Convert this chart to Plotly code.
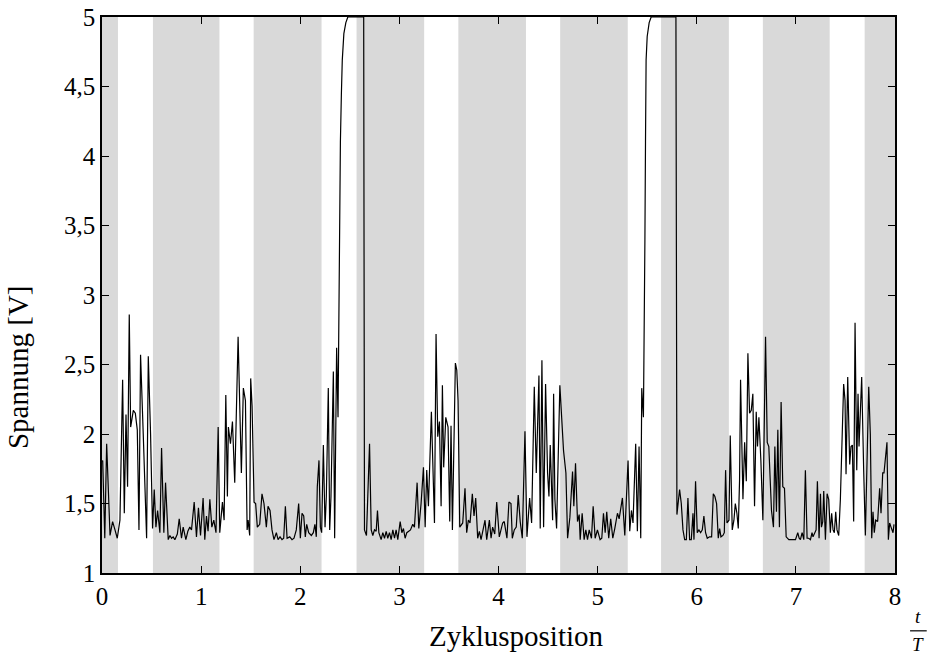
import plotly.graph_objects as go

# Zeit (Zyklusposition t/T) und Spannung [V]
t = [0.000, 0.007, 0.028, 0.047, 0.081, 0.107, 0.131, 0.154, 0.181, 0.208, 0.225, 0.242, 0.258, 0.275,
     0.289, 0.316, 0.336, 0.356, 0.373, 0.389, 0.416, 0.450, 0.467, 0.490, 0.510, 0.527, 0.544, 0.561,
     0.584, 0.601, 0.624, 0.641, 0.668, 0.685, 0.702, 0.718, 0.735, 0.760, 0.779, 0.802, 0.819, 0.846,
     0.866, 0.886, 0.903, 0.930, 0.953, 0.973, 0.994, 1.020, 1.037, 1.054, 1.070, 1.088, 1.108, 1.128,
     1.150, 1.172, 1.188, 1.215, 1.232, 1.249, 1.265, 1.275, 1.296, 1.316, 1.339, 1.373, 1.406, 1.426,
     1.447, 1.464, 1.474, 1.490, 1.500, 1.514, 1.534, 1.550, 1.567, 1.591, 1.614, 1.634, 1.658, 1.675,
     1.695, 1.715, 1.735, 1.759, 1.776, 1.796, 1.816, 1.833, 1.850, 1.867, 1.894, 1.917, 1.937, 1.960,
     1.984, 2.001, 2.018, 2.035, 2.051, 2.065, 2.085, 2.112, 2.132, 2.148, 2.162, 2.172, 2.189, 2.203,
     2.216, 2.233, 2.250, 2.263, 2.283, 2.297, 2.310, 2.334, 2.347, 2.367, 2.381, 2.388, 2.396, 2.405,
     2.415, 2.424, 2.440, 2.460, 2.480, 2.560, 2.640, 2.648, 2.668, 2.699, 2.716, 2.732, 2.749, 2.766,
     2.779, 2.793, 2.816, 2.833, 2.850, 2.867, 2.883, 2.900, 2.917, 2.934, 2.951, 2.967, 2.984, 3.008,
     3.025, 3.041, 3.058, 3.075, 3.095, 3.112, 3.135, 3.152, 3.179, 3.196, 3.219, 3.243, 3.260, 3.276,
     3.293, 3.323, 3.354, 3.370, 3.387, 3.404, 3.421, 3.434, 3.447, 3.468, 3.491, 3.508, 3.521, 3.535,
     3.565, 3.579, 3.592, 3.609, 3.639, 3.662, 3.679, 3.696, 3.713, 3.736, 3.753, 3.770, 3.790, 3.807,
     3.824, 3.844, 3.864, 3.881, 3.908, 3.925, 3.941, 3.962, 3.982, 4.008, 4.025, 4.042, 4.058, 4.085,
     4.105, 4.126, 4.139, 4.159, 4.179, 4.199, 4.219, 4.240, 4.267, 4.287, 4.314, 4.334, 4.361, 4.381,
     4.408, 4.421, 4.438, 4.455, 4.475, 4.495, 4.509, 4.522, 4.546, 4.556, 4.569, 4.586, 4.619, 4.656,
     4.680, 4.697, 4.720, 4.747, 4.760, 4.777, 4.797, 4.814, 4.824, 4.844, 4.864, 4.881, 4.898, 4.915,
     4.938, 4.955, 4.975, 4.998, 5.025, 5.042, 5.059, 5.076, 5.092, 5.112, 5.132, 5.153, 5.173, 5.200,
     5.217, 5.250, 5.274, 5.307, 5.324, 5.341, 5.357, 5.384, 5.401, 5.418, 5.435, 5.445, 5.462, 5.470,
     5.477, 5.483, 5.489, 5.500, 5.520, 5.540, 5.660, 5.790, 5.800, 5.827, 5.844, 5.861, 5.878, 5.895,
     5.911, 5.928, 5.945, 5.962, 5.972, 5.988, 6.005, 6.022, 6.039, 6.056, 6.072, 6.089, 6.106, 6.129,
     6.150, 6.167, 6.183, 6.200, 6.217, 6.231, 6.244, 6.264, 6.278, 6.291, 6.305, 6.325, 6.338, 6.358,
     6.375, 6.389, 6.405, 6.419, 6.432, 6.442, 6.466, 6.483, 6.500, 6.516, 6.533, 6.550, 6.566, 6.583,
     6.600, 6.613, 6.627, 6.647, 6.667, 6.694, 6.711, 6.727, 6.754, 6.774, 6.788, 6.804, 6.818, 6.834,
     6.851, 6.868, 6.885, 6.902, 6.929, 6.962, 6.996, 7.019, 7.033, 7.046, 7.063, 7.080, 7.096, 7.113,
     7.130, 7.147, 7.163, 7.173, 7.187, 7.204, 7.217, 7.234, 7.248, 7.258, 7.271, 7.281, 7.298, 7.315,
     7.331, 7.348, 7.361, 7.375, 7.388, 7.402, 7.415, 7.432, 7.449, 7.466, 7.482, 7.496, 7.506, 7.523,
     7.543, 7.556, 7.570, 7.583, 7.597, 7.614, 7.627, 7.637, 7.651, 7.664, 7.684, 7.701, 7.735, 7.751,
     7.765, 7.778, 7.791, 7.805, 7.825, 7.845, 7.859, 7.876, 7.889, 7.919, 7.933, 7.946, 7.960, 7.980,
     7.990]

spannung = [1.80, 1.81, 1.25, 1.93, 1.27, 1.37, 1.31, 1.25, 1.38, 2.39, 1.43, 2.14, 1.62, 2.86,
            2.05, 2.17, 2.15, 2.03, 1.31, 2.57, 2.00, 1.25, 2.56, 2.00, 1.32, 1.60, 1.33, 1.45,
            1.29, 1.90, 1.29, 1.65, 1.24, 1.27, 1.25, 1.26, 1.24, 1.28, 1.39, 1.25, 1.33, 1.24,
            1.30, 1.33, 1.31, 1.51, 1.26, 1.47, 1.27, 1.54, 1.24, 1.41, 1.30, 1.53, 1.33, 1.38,
            1.29, 2.05, 1.29, 1.51, 1.38, 2.28, 1.55, 2.05, 1.93, 2.09, 1.65, 2.70, 1.72, 2.33,
            2.24, 1.31, 1.38, 1.27, 2.40, 2.20, 1.51, 1.50, 1.33, 1.35, 1.57, 1.50, 1.33, 1.48,
            1.45, 1.31, 1.24, 1.29, 1.24, 1.26, 1.24, 1.25, 1.48, 1.25, 1.26, 1.24, 1.25, 1.31,
            1.50, 1.25, 1.43, 1.41, 1.26, 1.35, 1.29, 1.27, 1.29, 1.35, 1.26, 1.62, 1.81, 1.33,
            1.29, 1.92, 1.33, 1.55, 2.33, 1.31, 1.55, 2.45, 1.25, 2.62, 2.12, 2.90, 3.60, 4.10,
            4.45, 4.69, 4.88, 4.96, 5.00, 5.00, 5.00, 1.31, 1.27, 1.93, 1.31, 1.27, 1.31, 1.30,
            1.45, 1.29, 1.24, 1.29, 1.25, 1.30, 1.25, 1.29, 1.24, 1.31, 1.25, 1.31, 1.24, 1.37,
            1.29, 1.32, 1.25, 1.29, 1.30, 1.31, 1.35, 1.33, 1.65, 1.32, 1.50, 1.76, 1.33, 1.74,
            1.48, 2.16, 1.36, 2.72, 1.98, 2.09, 1.48, 2.35, 1.76, 2.12, 2.05, 1.37, 2.06, 1.31,
            2.51, 2.46, 2.24, 1.33, 1.36, 1.61, 1.29, 1.38, 1.36, 1.57, 1.41, 1.54, 1.25, 1.30,
            1.24, 1.31, 1.38, 1.24, 1.38, 1.25, 1.33, 1.28, 1.51, 1.26, 1.31, 1.36, 1.37, 1.25,
            1.51, 1.50, 1.25, 1.31, 1.33, 1.56, 1.37, 1.25, 2.02, 1.26, 1.54, 1.36, 2.34, 1.72,
            2.42, 1.32, 2.53, 1.33, 2.36, 1.72, 1.55, 1.92, 1.38, 2.29, 1.53, 1.32, 2.35, 1.88,
            1.72, 1.25, 1.40, 1.73, 1.48, 1.79, 1.37, 1.42, 1.24, 1.43, 1.24, 1.31, 1.24, 1.31,
            1.25, 1.48, 1.25, 1.31, 1.24, 1.25, 1.43, 1.29, 1.44, 1.25, 1.39, 1.25, 1.32, 1.43,
            1.39, 1.54, 1.27, 1.81, 1.30, 1.45, 1.36, 1.93, 1.30, 1.91, 1.25, 2.33, 2.12, 2.60,
            3.40, 4.10, 4.69, 4.86, 4.96, 5.00, 5.00, 5.00, 1.42, 1.60, 1.50, 1.31, 1.24, 1.24,
            1.54, 1.24, 1.24, 1.43, 1.24, 1.66, 1.29, 1.31, 1.29, 1.31, 1.41, 1.29, 1.25, 1.26,
            1.26, 1.57, 1.55, 1.50, 1.25, 1.32, 1.26, 1.27, 1.29, 1.74, 1.36, 1.38, 1.99, 1.31,
            1.38, 1.50, 1.43, 1.32, 1.67, 2.39, 1.53, 1.94, 1.66, 2.58, 2.15, 2.17, 2.29, 1.48,
            2.16, 1.91, 2.12, 1.81, 1.38, 2.70, 1.94, 1.91, 1.45, 1.33, 1.91, 1.44, 2.03, 1.33,
            2.23, 1.62, 1.61, 1.26, 1.24, 1.24, 1.24, 1.29, 1.25, 1.24, 1.29, 1.24, 1.74, 1.25,
            1.25, 1.24, 1.29, 1.26, 1.29, 1.31, 1.66, 1.25, 1.57, 1.33, 1.37, 1.59, 1.24, 1.57,
            1.53, 1.29, 1.43, 1.31, 1.29, 1.44, 1.31, 1.27, 1.53, 1.91, 2.36, 2.24, 1.71, 2.41,
            1.78, 1.91, 1.92, 1.37, 2.80, 1.74, 2.29, 1.91, 2.20, 2.41, 1.74, 1.27, 2.34, 2.00,
            1.25, 1.44, 1.29, 1.38, 1.37, 1.61, 1.43, 1.72, 1.72, 1.94, 1.24, 1.36, 1.33, 1.29,
            1.35]

# graue Bereiche (Start, Ende) in t/T
band_start = [0.0, 0.514, 1.530, 2.568, 3.595, 4.622, 5.640, 6.667, 7.694]
band_end = [0.161, 1.185, 2.215, 3.250, 4.277, 5.304, 6.324, 7.341, 8.0]

x_ticks = [0, 1, 2, 3, 4, 5, 6, 7, 8]
y_ticks = [1, 1.5, 2, 2.5, 3, 3.5, 4, 4.5, 5]
y_ticklabels = ["1", "1,5", "2", "2,5", "3", "3,5", "4", "4,5", "5"]

FONT = "Liberation Serif"

fig = go.Figure()
fig.add_trace(go.Scatter(x=t, y=spannung, mode="lines",
                         line=dict(color="black", width=1.2), showlegend=False))

shapes = []
for a, b in zip(band_start, band_end):
    shapes.append(dict(type="rect", xref="x", yref="y", x0=a, x1=b, y0=1, y1=5,
                       fillcolor="#d9d9d9", line=dict(width=0), layer="below"))
# fraction bar for t/T
shapes.append(dict(type="line", xref="paper", yref="paper", x0=1.019, x1=1.040,
                   y0=-0.104, y1=-0.104, line=dict(color="black", width=1.2)))

fig.update_layout(
    width=930, height=659,
    margin=dict(l=102, r=35, t=17, b=86, autoexpand=False),
    paper_bgcolor="white", plot_bgcolor="white",
    font=dict(family=FONT, size=25, color="black"),
    shapes=shapes,
    xaxis=dict(range=[0, 8], tickvals=x_ticks, ticks="inside", ticklen=7, tickwidth=1.3,
               tickcolor="black", showline=True, linecolor="black", linewidth=1.5,
               mirror="ticks", showgrid=False, zeroline=False, automargin=False,
               tickfont=dict(family=FONT, size=25)),
    yaxis=dict(range=[1, 5], tickvals=y_ticks, ticktext=y_ticklabels, ticks="inside",
               ticklen=7, tickwidth=1.3, tickcolor="black", showline=True, linecolor="black",
               linewidth=1.5, mirror="ticks", showgrid=False, zeroline=False, automargin=False,
               tickfont=dict(family=FONT, size=25)),
    annotations=[
        dict(text="Zyklusposition", xref="paper", yref="paper", x=0.523, y=-0.113,
             showarrow=False, font=dict(family=FONT, size=29), xanchor="center", yanchor="middle"),
        dict(text="Spannung [V]", xref="paper", yref="paper", x=-0.105, y=0.37,
             showarrow=False, textangle=-90, font=dict(family=FONT, size=29),
             xanchor="center", yanchor="middle"),
        dict(text="<i>t</i>", xref="paper", yref="paper", x=1.0295, y=-0.101,
             showarrow=False, font=dict(family=FONT, size=19), xanchor="center", yanchor="bottom"),
        dict(text="<i>T</i>", xref="paper", yref="paper", x=1.0295, y=-0.107,
             showarrow=False, font=dict(family=FONT, size=19), xanchor="center", yanchor="top"),
    ],
)

fig.write_html("out.html", post_script="document.body.style.margin='0';",
               config={"displayModeBar": False})
